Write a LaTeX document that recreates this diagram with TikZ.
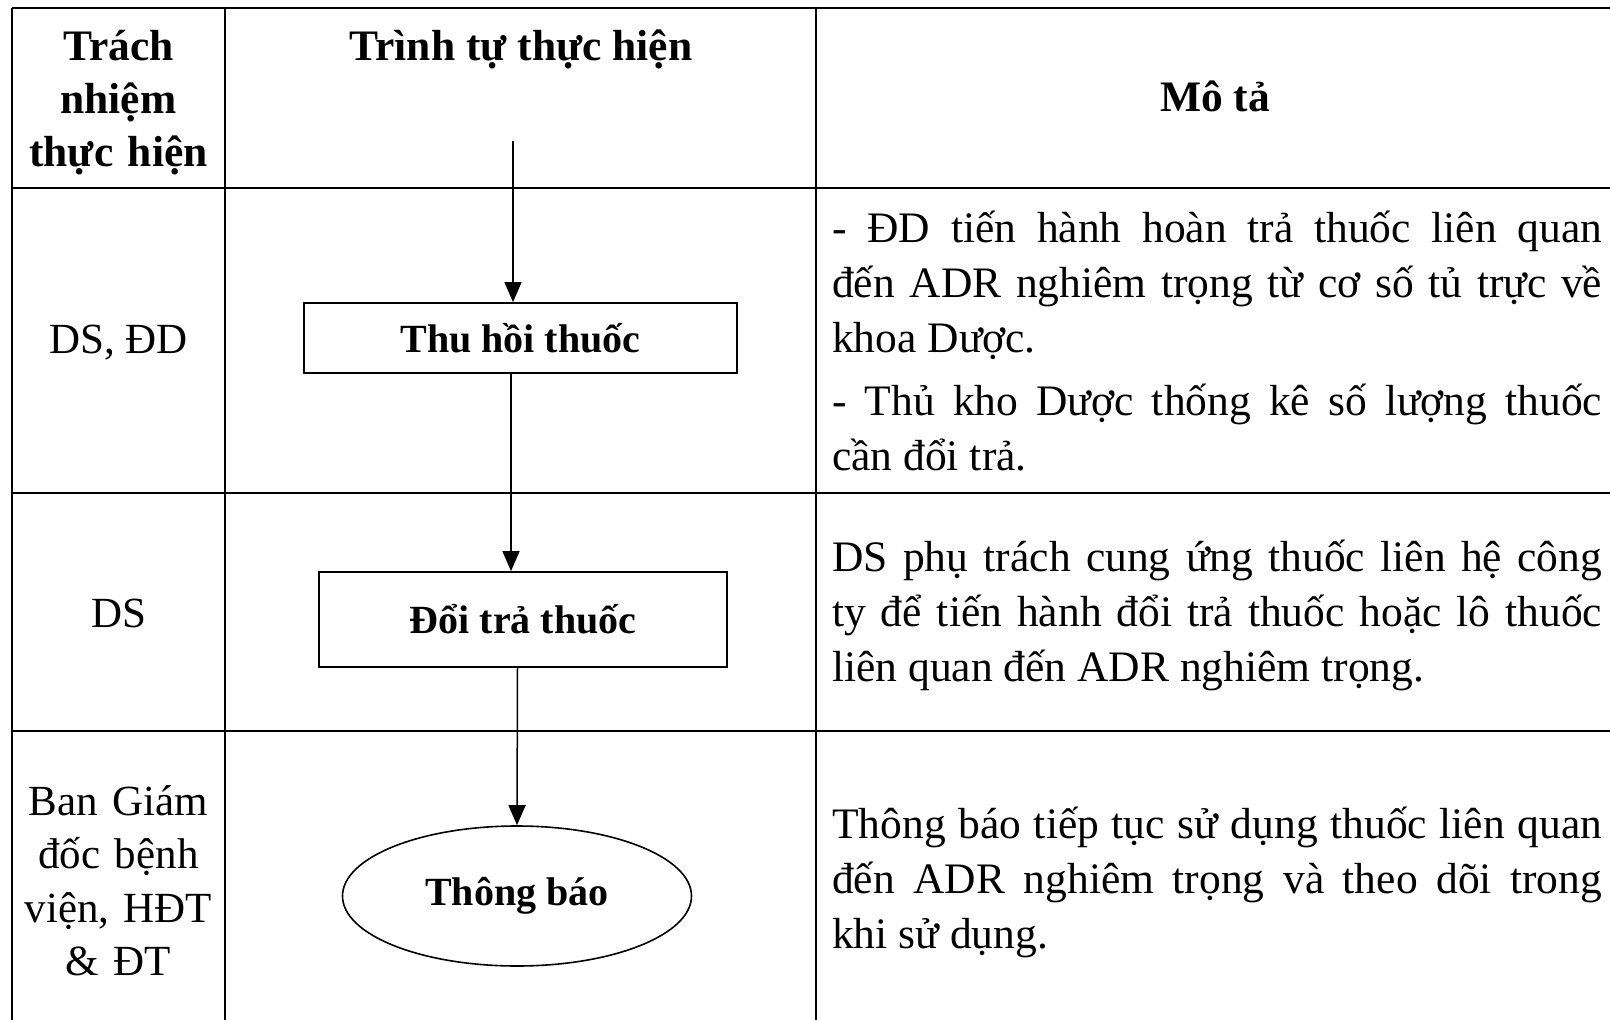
\documentclass[tikz,border=0pt]{standalone}
\usepackage{fontspec}
\setmainfont{Liberation Serif}
\usetikzlibrary{arrows.meta,shapes.geometric}
\hyphenpenalty=10000
\exhyphenpenalty=10000
\tikzset{
  grid/.style={line width=2pt, black},
  box/.style={draw, line width=1.8pt, rectangle, inner sep=0pt, font=\bfseries\fontsize{40}{50}\selectfont},
  oval/.style={draw, line width=1.6pt, ellipse, inner sep=0pt, font=\bfseries\fontsize{40}{50}\selectfont},
  flow/.style={line width=1.5pt, -{Triangle[length=20pt,width=17pt]}},
  head/.style={inner sep=0pt, font=\bfseries\fontsize{43.5}{53}\selectfont, align=center},
  lbl/.style={inner sep=0pt, font=\fontsize{43}{53.5}\selectfont, align=center},
  desc/.style={inner sep=0pt, text width=770pt, align=justify, font=\fontsize{43.5}{55}\selectfont},
}
\begin{document}
\begin{tikzpicture}[x=1pt,y=-1pt]
\useasboundingbox (0,0) rectangle (1610,1020);
\clip (0,0) rectangle (1610,1020);
% table grid
\draw[grid] (12,8) -- (1630,8);
\draw[grid] (12,188) -- (1630,188);
\draw[grid] (12,493) -- (1630,493);
\draw[grid] (12,731) -- (1630,731);
\draw[grid] (12,8) -- (12,1040);
\draw[grid] (225,8) -- (225,1040);
\draw[grid] (816,8) -- (816,1040);
% headers
\node[head, text width=220pt, anchor=base] (h1) at (118.5,60) {Trách\\nhiệm\\thực hiện};
\node[head, anchor=base] (h2) at (521,60) {Trình tự thực hiện};
\node[head, anchor=base] (h3) at (1215,111) {Mô tả};
% row labels
\node[lbl, anchor=base] (r1) at (118.5,353) {DS, ĐD};
\node[lbl, anchor=base] (r2) at (118.5,627) {DS};
\node[lbl, text width=210pt, anchor=base] (r3) at (118.5,815) {Ban Giám\\đốc bệnh\\viện, HĐT\\\& ĐT};
% flow nodes
\node[box, minimum width=433pt, minimum height=70pt] (b1) at (520.5,338) {Thu hồi thuốc};
\node[box, minimum width=408pt, minimum height=95pt] (b2) at (523,619.5) {Đổi trả thuốc};
\node[oval, minimum width=349pt, minimum height=140pt] (b3) at (517,896) {Thông báo};
\coordinate (start) at (513,141);
% connectors
\draw[flow] (start) -- ([xshift=-7.5pt]b1.north);
\draw[flow] ([xshift=-9.5pt]b1.south) -- ([xshift=-12pt]b2.north);
\draw[flow] ([xshift=-5.5pt]b2.south) -- (b3.north);
% descriptions
\node[desc, anchor=base west] (d1) at (832,242) {- ĐD tiến hành hoàn trả thuốc liên quan\linebreak đến ADR nghiêm trọng từ cơ số tủ trực về\linebreak khoa Dược.\par\vspace{8pt}- Thủ kho Dược thống kê số lượng thuốc\linebreak cần đổi trả.};
\node[desc, anchor=base west] (d2) at (832,571) {DS phụ trách cung ứng thuốc liên hệ công\linebreak ty để tiến hành đổi trả thuốc hoặc lô thuốc\linebreak liên quan đến ADR nghiêm trọng.};
\node[desc, anchor=base west] (d3) at (832,838) {Thông báo tiếp tục sử dụng thuốc liên quan\linebreak đến ADR nghiêm trọng và theo dõi trong\linebreak khi sử dụng.};
\end{tikzpicture}
\end{document}
